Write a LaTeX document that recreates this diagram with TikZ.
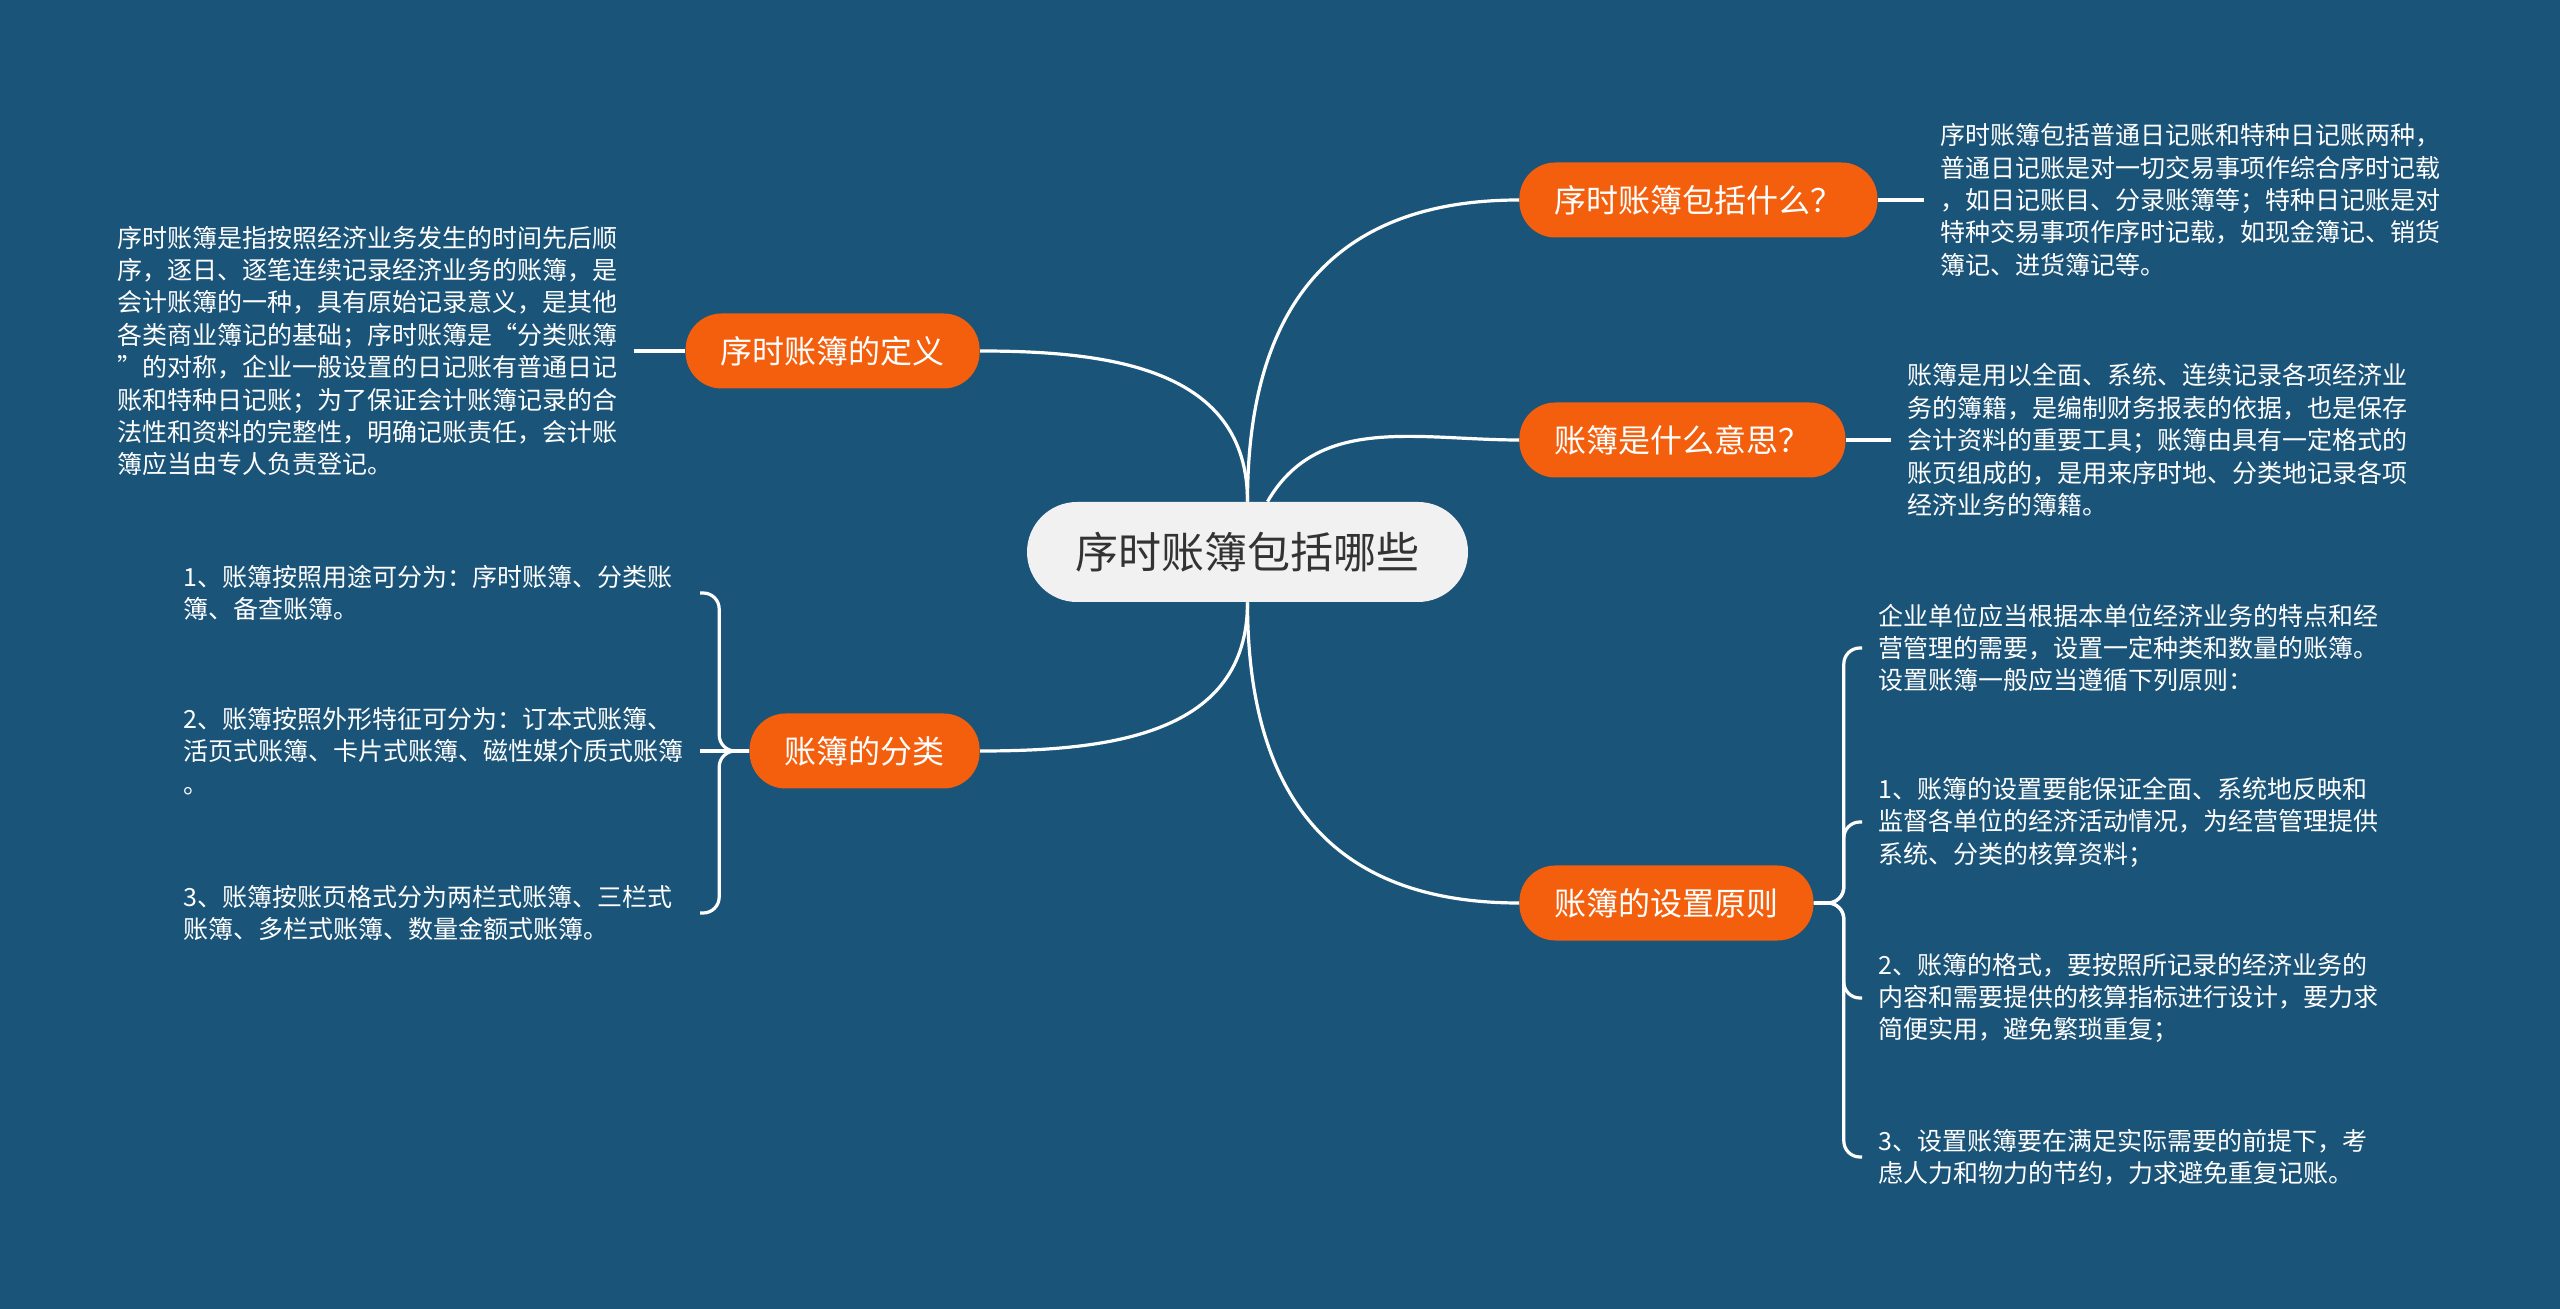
\documentclass[tikz,border=0pt]{standalone}
\usepackage{fontspec}
\setmainfont{Noto Sans CJK SC}
\usetikzlibrary{calc,positioning}
\definecolor{bgBlue}     {HTML}{1B5479}
\definecolor{topicOrange}{HTML}{F35F0C}
\definecolor{rootGray}   {HTML}{F1F1F1}
\definecolor{rootText}   {HTML}{333333}
\tikzset{
  link/.style={draw=white,line width=1.6pt},
  root/.style={rectangle,rounded corners=25pt,fill=rootGray,text=rootText,
    minimum width=220.5pt,minimum height=50pt,font=\fontsize{21.5}{26}\selectfont},
  topic/.style={rectangle,rounded corners=18pt,fill=topicOrange,text=white,
    minimum height=37.5pt,inner xsep=17.5pt,font=\fontsize{16}{20}\selectfont},
  desc/.style={text=white,align=left,inner xsep=8pt,inner ysep=2pt,
    font=\fontsize{12.5}{16.2}\selectfont},
  descw/.style={desc,text width=250pt},
}

\begin{document}
\begin{tikzpicture}[x=0.5pt,y=-0.5pt]

\fill[bgBlue] (0,0) rectangle (2560,1309);
\useasboundingbox (0,0) rectangle (2560,1309);

\node[root] (root) at (1247.5,552) {序时账簿包括哪些};

% right side
\node[topic,anchor=west] (incl) at (1519,200) {序时账簿包括什么？};
\node[topic,anchor=west] (meaning) at (1519,440) {账簿是什么意思？};
\node[topic,anchor=west] (setup) at (1519,903) {账簿的设置原则};

\node[desc,anchor=west] (inclTxt) at (1924,200)
  {序时账簿包括普通日记账和特种日记账两种，\\普通日记账是对一切交易事项作综合序时记载\\，如日记账目、分录账簿等；特种日记账是对\\特种交易事项作序时记载，如现金簿记、销货\\簿记、进货簿记等。};
\node[desc,anchor=west] (meaningTxt) at (1891,440)
  {账簿是用以全面、系统、连续记录各项经济业\\务的簿籍，是编制财务报表的依据，也是保存\\会计资料的重要工具；账簿由具有一定格式的\\账页组成的，是用来序时地、分类地记录各项\\经济业务的簿籍。};

\node[descw,anchor=west] (s1) at (1862,648)
  {企业单位应当根据本单位经济业务的特点和经\\营管理的需要，设置一定种类和数量的账簿。\\设置账簿一般应当遵循下列原则：};
\node[descw,anchor=west] (s2) at (1862,822)
  {1、账簿的设置要能保证全面、系统地反映和\\监督各单位的经济活动情况，为经营管理提供\\系统、分类的核算资料；};
\node[descw,anchor=west] (s3) at (1862,998)
  {2、账簿的格式，要按照所记录的经济业务的\\内容和需要提供的核算指标进行设计，要力求\\简便实用，避免繁琐重复；};
\node[descw,anchor=west] (s4) at (1862,1157)
  {3、设置账簿要在满足实际需要的前提下，考\\虑人力和物力的节约，力求避免重复记账。};

% left side
\node[topic,anchor=east] (defn) at (980,351) {序时账簿的定义};
\node[topic,anchor=east] (cls) at (980,751) {账簿的分类};

\node[descw,anchor=east] (defnTxt) at (634,351)
  {序时账簿是指按照经济业务发生的时间先后顺\\序，逐日、逐笔连续记录经济业务的账簿，是\\会计账簿的一种，具有原始记录意义，是其他\\各类商业簿记的基础；序时账簿是“分类账簿\\”的对称，企业一般设置的日记账有普通日记\\账和特种日记账；为了保证会计账簿记录的合\\法性和资料的完整性，明确记账责任，会计账\\簿应当由专人负责登记。};

\node[descw,anchor=east] (c1) at (700,593)
  {1、账簿按照用途可分为：序时账簿、分类账\\簿、备查账簿。};
\node[descw,anchor=east] (c2) at (700,751)
  {2、账簿按照外形特征可分为：订本式账簿、\\活页式账簿、卡片式账簿、磁性媒介质式账簿\\。};
\node[descw,anchor=east] (c3) at (700,913)
  {3、账簿按账页格式分为两栏式账簿、三栏式\\账簿、多栏式账簿、数量金额式账簿。};

% branches from the root
\draw[link] (root.north) to[out=90,in=180,looseness=1.2] (incl.west);
\draw[link] ([xshift=10pt]root.north) to[out=60,in=180] (meaning.west);
\draw[link] (root.south) to[out=-90,in=180,looseness=1.2] (setup.west);
\draw[link] (root.north) to[out=90,in=0,looseness=1.1] (defn.east);
\draw[link] (root.south) to[out=-90,in=0,looseness=1.1] (cls.east);

% leaves
\draw[link] (incl.east) -- (inclTxt.west);
\draw[link] (meaning.east) -- (meaningTxt.west);
\draw[link] (defn.west) -- (defnTxt.east);

\coordinate (setupHub) at ($(setup.east)+(30,0)$);
\foreach \s in {s1,s2,s3,s4}
  \draw[link,rounded corners=8pt] (setup.east) -- (setupHub) |- (\s.west);

\coordinate (clsHub) at ($(cls.west)+(-30,0)$);
\foreach \c in {c1,c3}
  \draw[link,rounded corners=8pt] (cls.west) -- (clsHub) |- (\c.east);
\draw[link] (cls.west) -- (c2.east);

\end{tikzpicture}
\end{document}
